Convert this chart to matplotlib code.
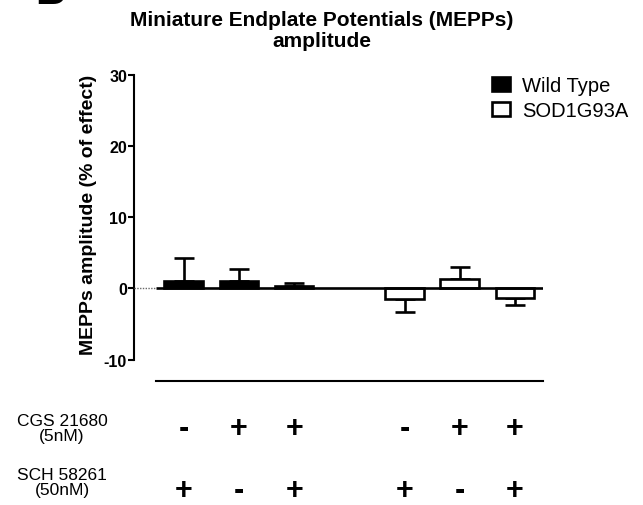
import numpy as np
import matplotlib
matplotlib.use("Agg")
import matplotlib.pyplot as plt
import matplotlib.transforms as mtransforms
from matplotlib.patches import Patch

plt.rcParams['font.family'] = ['Liberation Sans', 'DejaVu Sans']

# values (% of effect)
groups = ['Wild Type', 'SOD1G93A']
wt_mean = [1.0, 1.0, 0.3]
wt_sem = [3.2, 1.7, 0.5]
sod_mean = [-1.5, 1.3, -1.4]
sod_sem = [1.8, 1.7, 0.9]
wt_pos = [0, 1, 2]
sod_pos = [4, 5, 6]

cgs_signs = ['-', '+', '+', '-', '+', '+']
sch_signs = ['+', '-', '+', '+', '-', '+']
row_labels = ['CGS 21680\n(5nM)', 'SCH 58261\n(50nM)']
yticks = [-10, 0, 10, 20, 30]

W, H = 643, 506
fig = plt.figure(figsize=(W / 100, H / 100), dpi=100)
ax = fig.add_axes([134 / W, 1 - 382 / H, (542.6 - 134) / W, (382 - 75.7) / H])

lw = 1.9
bw = 0.70

def one_sided(means, sems):
    # error bar only away from zero, like Prism
    lo = [s if m < 0 else 0 for m, s in zip(means, sems)]
    hi = [s if m >= 0 else 0 for m, s in zip(means, sems)]
    return [lo, hi]

ax.bar(wt_pos, wt_mean, width=bw, color='black', edgecolor='black', linewidth=lw, zorder=3)
ax.bar(sod_pos, sod_mean, width=bw, color='white', edgecolor='black', linewidth=lw, zorder=3)
ax.errorbar(wt_pos, wt_mean, yerr=one_sided(wt_mean, wt_sem), fmt='none', ecolor='black',
            elinewidth=lw, capsize=7.5, capthick=lw, zorder=2)
ax.errorbar(sod_pos, sod_mean, yerr=one_sided(sod_mean, sod_sem), fmt='none', ecolor='black',
            elinewidth=lw, capsize=7.5, capthick=lw, zorder=2)

# zero baseline
ax.hlines(0, -0.5, 6.5, color='black', linewidth=lw, zorder=4)
ax.hlines(0, -0.9, -0.5, color='dimgray', linewidth=1.0, linestyles=(0, (1, 1)), zorder=4)

ax.set_xlim(-0.9, 6.5)
ax.set_ylim(-13, 30)
ax.set_yticks(yticks)
ax.set_yticklabels([str(t) for t in yticks], fontweight='bold', fontsize=11.5)
ax.set_xticks([])
ax.tick_params(axis='y', length=4, width=1.5, pad=1)
for s in ['top', 'right']:
    ax.spines[s].set_visible(False)
ax.spines['left'].set_bounds(-10, 30)
ax.spines['left'].set_linewidth(1.5)
ax.spines['bottom'].set_bounds(-0.5, 6.5)
ax.spines['bottom'].set_linewidth(1.5)

ax.set_ylabel('MEPPs amplitude (% of effect)', fontsize=14, fontweight='bold')
ax.yaxis.set_label_coords(-0.09, 0.545)

fig.text(0.5, 1 - 11 / H, 'Miniature Endplate Potentials (MEPPs)\namplitude',
         ha='center', va='top', fontsize=15, fontweight='bold', linespacing=1.15)
fig.text(35 / W, 1 - 4 / H, 'B', fontsize=30, fontweight='bold', va='baseline')

handles = [Patch(facecolor='black', edgecolor='black', linewidth=lw),
           Patch(facecolor='white', edgecolor='black', linewidth=lw)]
fig.legend(handles, groups, loc='upper left', bbox_to_anchor=(492 / W, 1 - 77 / H),
           frameon=False, fontsize=14.5, handlelength=0.9, handleheight=0.75,
           handletextpad=0.6, labelspacing=0.3, borderpad=0, borderaxespad=0)

# treatment table under the axis
trans = mtransforms.blended_transform_factory(ax.transData, fig.transFigure)
all_pos = wt_pos + sod_pos
for x, c, s in zip(all_pos, cgs_signs, sch_signs):
    ax.text(x, 1 - 437 / H, c, transform=trans, ha='center', va='baseline',
            fontsize=22, fontweight='bold')
    ax.text(x, 1 - 499 / H, s, transform=trans, ha='center', va='baseline',
            fontsize=22, fontweight='bold')
fig.text(62 / W, 1 - 429 / H, row_labels[0], ha='center', va='center', fontsize=12.5, linespacing=1.0)
fig.text(62 / W, 1 - 483 / H, row_labels[1], ha='center', va='center', fontsize=12.5, linespacing=1.0)

fig.savefig('out.png', dpi=100)
